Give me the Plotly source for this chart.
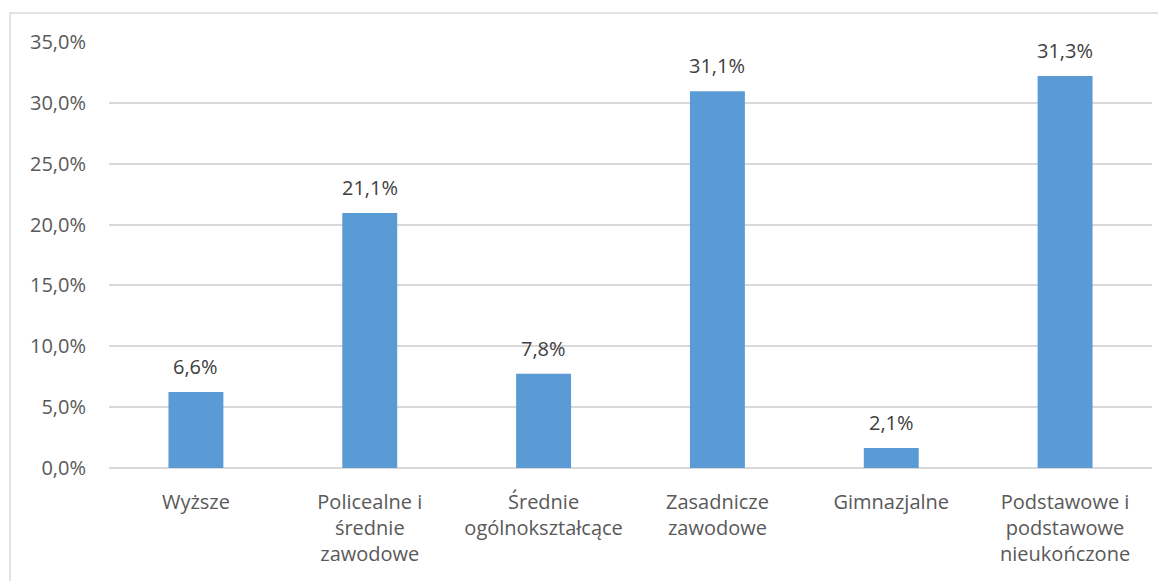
import plotly.graph_objects as go

categories = ["Wyższe", "Policealne i<br>średnie<br>zawodowe", "Średnie<br>ogólnokształcące",
              "Zasadnicze<br>zawodowe", "Gimnazjalne", "Podstawowe i<br>podstawowe<br>nieukończone"]
bar_values = [6.25, 20.95, 7.75, 30.95, 1.65, 32.2]
label_texts = ["6,6%", "21,1%", "7,8%", "31,1%", "2,1%", "31,3%"]
tick_values = [0, 5, 10, 15, 20, 25, 30, 35]
tick_labels = ["0,0%", "5,0%", "10,0%", "15,0%", "20,0%", "25,0%", "30,0%", "35,0%"]

# page body has an 8px margin; figure is sized/offset to compensate
W, H = 1158, 573
L, R, T, B = 101, 14, 34, 113
pw, ph = W - L - R, H - T - B

fig = go.Figure()
fig.add_trace(go.Bar(x=categories, y=bar_values, marker=dict(color="#5b9bd5", line=dict(width=0)),
                     width=0.316, hoverinfo="skip"))

for c, v, t in zip(categories, bar_values, label_texts):
    fig.add_annotation(x=c, y=v, text=t, showarrow=False, yanchor="bottom", yshift=10,
                       font=dict(family="Open Sans", size=20, color="#404040"))

fig.add_shape(type="rect", xref="paper", yref="paper",
              x0=(2 - L) / pw, x1=1.2, y0=-0.5, y1=1 + (T - 5) / ph,
              line=dict(color="#d9d9d9", width=1.5), layer="below")

fig.update_layout(
    width=W, height=H,
    margin=dict(l=L, r=R, t=T, b=B),
    paper_bgcolor="white", plot_bgcolor="white",
    showlegend=False,
    font=dict(family="Open Sans", size=20, color="#595959"),
    xaxis=dict(showgrid=False, showline=False, ticks="", zeroline=False,
               tickfont=dict(size=20, color="#595959"), ticklabelstandoff=20),
    yaxis=dict(range=[0, 35], tickvals=tick_values, ticktext=tick_labels,
               showgrid=True, gridcolor="#d9d9d9", gridwidth=1.5,
               zeroline=True, zerolinecolor="#d9d9d9", zerolinewidth=1.5,
               showline=False, ticks="", tickfont=dict(size=20, color="#595959"),
               ticklabelstandoff=22),
)

fig.write_html("out.html")
